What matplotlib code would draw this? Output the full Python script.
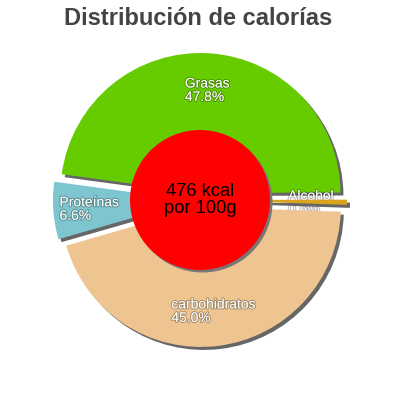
import numpy as np
import matplotlib
matplotlib.use("Agg")
import matplotlib.pyplot as plt
from matplotlib.patches import Circle
import matplotlib.patheffects as pe

# ---- data ----
categories = ["Grasas", "Proteínas", "carbohidratos", "Alcohol"]
values = [47.8, 6.6, 45.0, 0.6]
colors = ["#66cc00", "#7ec6cf", "#eec591", "#d9a21f"]
title = "Distribución de calorías"
center_lines = ["476 kcal", "por 100g"]

plt.rcParams['font.family'] = ['Liberation Sans', 'DejaVu Sans']

fig = plt.figure(figsize=(4, 4), dpi=100)
ax = fig.add_axes([0, 0, 1, 1])

R = 140
C = (200, 200)
EXP = 7
START = 0.2
SH = (3, -3)
shadow_col = "#666666"

# shadow pie
sw, _ = ax.pie(values, colors=[shadow_col] * len(values), startangle=START,
               counterclock=True, explode=[EXP] * len(values), radius=R,
               center=(C[0] + SH[0], C[1] + SH[1]), wedgeprops=dict(linewidth=0))
# main pie
mw, _ = ax.pie(values, colors=colors, startangle=START, counterclock=True,
               explode=[EXP] * len(values), radius=R, center=C,
               wedgeprops=dict(linewidth=0))

for i, (s, w) in enumerate(zip(sw, mw)):
    if i == 0:
        s.set_zorder(1)
        w.set_zorder(2)
    else:
        s.set_zorder(2.7)
        w.set_zorder(3)

# labels
total = sum(values)
theta = START
for i, (cat, v) in enumerate(zip(categories, values)):
    span = v / total * 360
    mid = np.deg2rad(theta + span / 2)
    theta += span
    r = 111
    x = C[0] + r * np.cos(mid)
    y = C[1] + r * np.sin(mid) - 1
    z = 2.5 if cat == "Alcohol" else 4
    ax.text(x, y, f"{cat}\n{v:.1f}%", ha="center", va="center",
            multialignment="left", color="white", fontsize=10,
            linespacing=0.95, zorder=z,
            path_effects=[pe.withStroke(linewidth=1.4, foreground=(0, 0, 0, 0.3))])

# centre circle with shadow
ax.add_patch(Circle((C[0] + 2.5, C[1] - 2.5), 70, color="#777777", zorder=5, lw=0))
ax.add_patch(Circle(C, 70, color="#ff0000", zorder=5.5, lw=0))
ax.text(C[0], 204, center_lines[0], ha="center", va="baseline",
        fontsize=13.2, color="black", zorder=6)
ax.text(C[0], 187, center_lines[1], ha="center", va="baseline",
        fontsize=13.2, color="black", zorder=6)

ax.text(198, 375, title, ha="center", va="baseline", fontsize=17,
        fontweight="bold", color="#444444")

ax.set_xlim(0, 400)
ax.set_ylim(0, 400)
ax.set_aspect("equal")
ax.axis("off")

fig.savefig("out.png", dpi=100)
